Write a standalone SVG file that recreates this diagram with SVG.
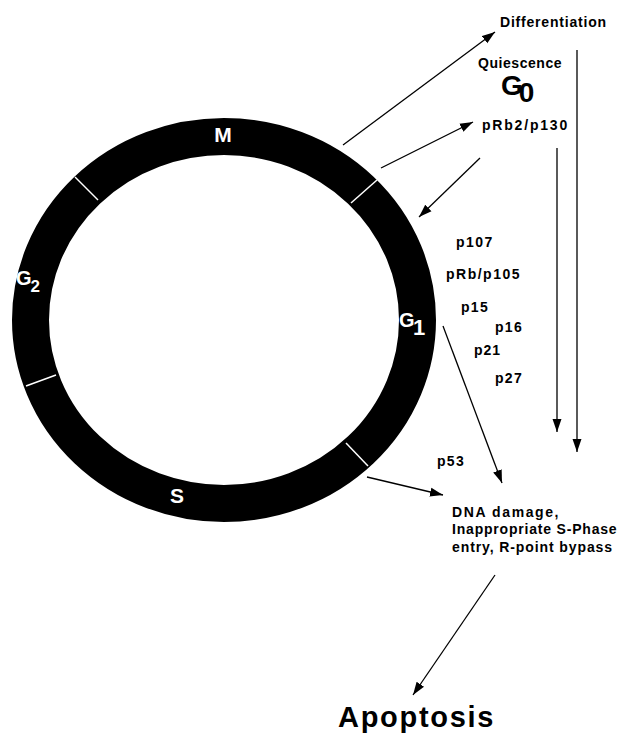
<svg xmlns="http://www.w3.org/2000/svg" width="619" height="734" viewBox="0 0 619 734">
<style>
  .t { font-family: "Liberation Sans", Arial, Helvetica, sans-serif; font-weight: bold; fill: #000; }
  .w { font-family: "Liberation Sans", Arial, Helvetica, sans-serif; font-weight: bold; fill: #fff; }
  .c { stroke: #000; stroke-width: 1.3; fill: none; marker-end: url(#ah); }
  .d { stroke: #fff; stroke-width: 1.5; }
</style>
<defs>
  <marker id="ah" markerUnits="userSpaceOnUse" markerWidth="14" markerHeight="10" refX="13" refY="5" orient="auto">
    <path d="M0,0.5 L13,5 L0,9.5 z" fill="#000"/>
  </marker>
</defs>
<rect width="619" height="734" fill="#fff"/>

<g id="cycle">
  <ellipse cx="224" cy="320" rx="193.5" ry="183.5" fill="none" stroke="#000" stroke-width="37"/>
  <line class="d" x1="75" y1="177" x2="98" y2="200"/>
  <line class="d" x1="377" y1="180" x2="351" y2="203"/>
  <line class="d" x1="26" y1="386" x2="56" y2="375"/>
  <line class="d" x1="346" y1="443" x2="368" y2="466"/>
</g>
<g id="M"><text class="w" x="223" y="142" font-size="21" text-anchor="middle">M</text></g>
<g id="G2"><text class="w" x="16" y="285" font-size="20" letter-spacing="-1">G<tspan font-size="17" dy="7">2</tspan></text></g>
<g id="S"><text class="w" x="177" y="503" font-size="21" text-anchor="middle">S</text></g>
<g id="G1"><text class="w" x="399" y="327" font-size="20" letter-spacing="-1.5">G<tspan font-size="22" dy="8">1</tspan></text></g>

<g id="differentiation"><text class="t" x="500" y="27" font-size="14" letter-spacing="0.8">Differentiation</text></g>
<g id="quiescence"><text class="t" x="478" y="68" font-size="14" letter-spacing="0.55">Quiescence</text></g>
<g id="G0"><text class="t" x="501" y="95" font-size="28">G<tspan dx="-4" dy="7">0</tspan></text></g>
<g id="pRb2"><text class="t" x="482" y="130" font-size="14" letter-spacing="1.8">pRb2/p130</text></g>
<g id="p107"><text class="t" x="456" y="247" font-size="14" letter-spacing="1.5">p107</text></g>
<g id="pRb"><text class="t" x="446" y="279" font-size="14" letter-spacing="1.5">pRb/p105</text></g>
<g id="p15"><text class="t" x="461" y="312" font-size="14" letter-spacing="1.3">p15</text></g>
<g id="p16"><text class="t" x="495" y="332" font-size="14" letter-spacing="1.3">p16</text></g>
<g id="p21"><text class="t" x="474" y="355" font-size="14" letter-spacing="1">p21</text></g>
<g id="p27"><text class="t" x="495" y="383" font-size="14" letter-spacing="1.3">p27</text></g>
<g id="p53"><text class="t" x="437" y="466" font-size="14" letter-spacing="1.3">p53</text></g>
<g id="dna">
  <text class="t" x="452" y="517" font-size="14" letter-spacing="1.6">DNA damage,</text>
  <text class="t" x="452" y="534" font-size="14" letter-spacing="0.8">Inappropriate S-Phase</text>
  <text class="t" x="452" y="552" font-size="14" letter-spacing="0.9">entry, R-point bypass</text>
</g>
<g id="apoptosis"><text class="t" x="338" y="727" font-size="29" letter-spacing="1.7">Apoptosis</text></g>

<g id="connectors">
  <line class="c" x1="343" y1="145" x2="495" y2="32"/>
  <line class="c" x1="381" y1="168" x2="473" y2="122"/>
  <line class="c" x1="480" y1="158" x2="419" y2="217"/>
  <line class="c" x1="443" y1="326" x2="502" y2="483"/>
  <line class="c" x1="367" y1="477" x2="443" y2="495"/>
  <line class="c" x1="557" y1="148" x2="557" y2="432"/>
  <line class="c" x1="577" y1="50" x2="577" y2="452"/>
  <line class="c" x1="495" y1="575" x2="413" y2="695"/>
</g>
</svg>
